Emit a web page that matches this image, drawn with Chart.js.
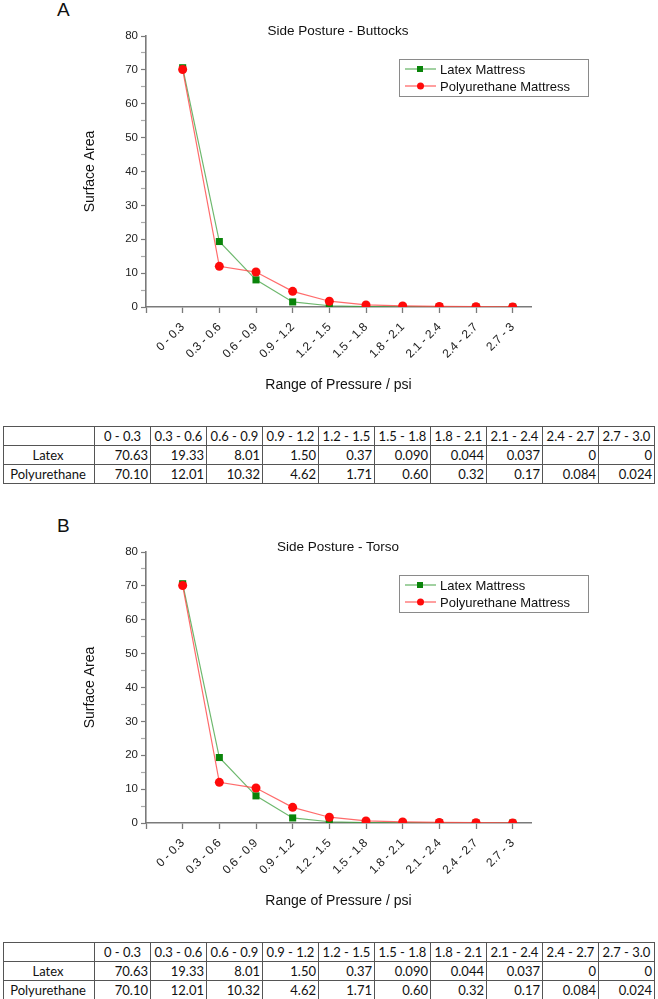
<!DOCTYPE html>
<html>
<head>
<meta charset="utf-8">
<script src="https://cdn.jsdelivr.net/npm/chart.js@4.4.0/dist/chart.umd.min.js"></script>
<style>
    body { margin: 0; background: #fff; width: 658px; height: 999px; position: relative; overflow: hidden; font-family: "Liberation Sans", Arial, sans-serif; color: #111; }
    .panel { position: absolute; left: 0; width: 658px; height: 516px; }
    .letter { position: absolute; left: 57px; top: -1px; font-size: 19px; line-height: 22px; }
    .title { position: absolute; left: 0; width: 676px; top: 23px; text-align: center; font-size: 13.5px; line-height: 15px; }
    canvas { position: absolute; left: 0; top: 0; }
    table { position: absolute; left: 3px; top: 426px; border-collapse: collapse; table-layout: fixed; width: 651px; font-family: Lato, "Open Sans", sans-serif; font-size: 13px; color: #111; }
    td { border: 1px solid #555; height: 18px; padding: 0 2px 0 0; text-align: right; line-height: 18px; white-space: nowrap; overflow: hidden; }
    td.lab { text-align: center; }
    tr.head td { text-align: center; padding: 0; }
</style>
</head>
<body>
<div class="panel" id="panelA" style="top:0">
    <div class="letter">A</div>
    <canvas id="chartA" width="658" height="410"></canvas>
    <div class="title">Side Posture - Buttocks</div>
    <table id="tableA"></table>
</div>
<div class="panel" id="panelB" style="top:516px">
    <div class="letter">B</div>
    <canvas id="chartB" width="658" height="410"></canvas>
    <div class="title">Side Posture - Torso</div>
    <table id="tableB"></table>
</div>
<script>
const pressureRanges = ['0 - 0.3', '0.3 - 0.6', '0.6 - 0.9', '0.9 - 1.2', '1.2 - 1.5', '1.5 - 1.8', '1.8 - 2.1', '2.1 - 2.4', '2.4 - 2.7', '2.7 - 3'];
const tableRanges = ['0 - 0.3', '0.3 - 0.6', '0.6 - 0.9', '0.9 - 1.2', '1.2 - 1.5', '1.5 - 1.8', '1.8 - 2.1', '2.1 - 2.4', '2.4 - 2.7', '2.7 - 3.0'];

const latexButtocks = ['70.63', '19.33', '8.01', '1.50', '0.37', '0.090', '0.044', '0.037', '0', '0'];
const polyButtocks = ['70.10', '12.01', '10.32', '4.62', '1.71', '0.60', '0.32', '0.17', '0.084', '0.024'];
const latexTorso = ['70.63', '19.33', '8.01', '1.50', '0.37', '0.090', '0.044', '0.037', '0', '0'];
const polyTorso = ['70.10', '12.01', '10.32', '4.62', '1.71', '0.60', '0.32', '0.17', '0.084', '0.024'];

const axisFont = { family: '"Liberation Sans", Arial, sans-serif', size: 11.5 };
const xTickFont = { family: '"Liberation Sans", Arial, sans-serif', size: 12 };
const titleFont = { family: '"Liberation Sans", Arial, sans-serif', size: 14 };

// legend box with line + marker, like the original
const boxLegend = {
    id: 'boxLegend',
    afterDatasetsDraw(chart) {
        const { ctx, chartArea } = chart;
        const x = chartArea.left + 253, y = chartArea.top + 23;
        ctx.save();
        ctx.fillStyle = '#fff';
        ctx.fillRect(x, y, 189, 37);
        ctx.strokeStyle = '#8a8a8a';
        ctx.lineWidth = 1;
        ctx.strokeRect(x + 0.5, y + 0.5, 189, 37);
        chart.data.datasets.forEach((ds, i) => {
            const ly = y + 10 + i * 17;
            ctx.strokeStyle = ds.borderColor;
            ctx.lineWidth = 1.3;
            ctx.beginPath();
            ctx.moveTo(x + 6, ly);
            ctx.lineTo(x + 37, ly);
            ctx.stroke();
            ctx.fillStyle = ds.pointBackgroundColor;
            if (ds.pointStyle === 'rect') {
                ctx.fillRect(x + 18, ly - 3, 6, 6);
            } else {
                ctx.beginPath();
                ctx.arc(x + 21.5, ly, 3.5, 0, Math.PI * 2);
                ctx.fill();
            }
            ctx.fillStyle = '#111';
            ctx.font = '13px "Liberation Sans", Arial, sans-serif';
            ctx.textBaseline = 'middle';
            ctx.fillText(ds.label, x + 41, ly + 1);
        });
        ctx.restore();
    }
};

function makeChart(id, latex, poly) {
    const ctx = document.getElementById(id).getContext('2d');
    return new Chart(ctx, {
        type: 'line',
        data: {
            datasets: [{
                label: 'Latex Mattress',
                data: latex.map((v, i) => ({ x: i, y: parseFloat(v) })),
                borderColor: 'rgba(60, 160, 60, 0.75)',
                borderWidth: 1.2,
                pointStyle: 'rect',
                pointRadius: 5,
                pointBackgroundColor: '#0a840a',
                pointBorderColor: '#0a840a',
                pointBorderWidth: 0,
                order: 2
            }, {
                label: 'Polyurethane Mattress',
                data: poly.map((v, i) => ({ x: i, y: parseFloat(v) })),
                borderColor: 'rgba(255, 70, 70, 0.8)',
                borderWidth: 1.2,
                pointStyle: 'circle',
                pointRadius: 4.5,
                pointBackgroundColor: '#ff0a0a',
                pointBorderColor: '#ff0a0a',
                pointBorderWidth: 0,
                order: 1
            }]
        },
        options: {
            responsive: false,
            animation: false,
            layout: { padding: { left: 0, right: 127, top: 36, bottom: 10 } },
            plugins: { legend: { display: false }, tooltip: { enabled: false } },
            scales: {
                x: {
                    type: 'linear',
                    min: -1,
                    max: 9.5,
                    afterBuildTicks: scale => {
                        scale.ticks = pressureRanges.map((_, i) => ({ value: i }));
                        scale.ticks.unshift({ value: -1 });
                    },
                    afterFit: scale => { scale.height = 93; },
                    ticks: {
                        autoSkip: false,
                        minRotation: 45,
                        maxRotation: 45,
                        padding: 7,
                        color: '#222',
                        font: xTickFont,
                        callback: v => pressureRanges[v] || ''
                    },
                    grid: { drawOnChartArea: false, tickLength: 6, tickColor: '#7a7a7a', tickWidth: 1.3 },
                    border: { color: '#7a7a7a', width: 1.6 },
                    title: { display: true, text: 'Range of Pressure / psi', color: '#111', font: titleFont, padding: { bottom: 6 } }
                },
                y: {
                    min: 0,
                    max: 80,
                    afterFit: scale => { scale.width = 146; },
                    ticks: {
                        stepSize: 5,
                        padding: 3,
                        color: '#222',
                        font: axisFont,
                        callback: v => (v % 10 === 0 ? v : '')
                    },
                    grid: {
                        drawOnChartArea: false,
                        tickLength: 5,
                        tickColor: c => (c.tick && c.tick.value % 10 === 0 ? '#7a7a7a' : '#aaaaaa'),
                        tickWidth: 1.2
                    },
                    border: { color: '#7a7a7a', width: 1.6 },
                    title: { display: true, text: 'Surface Area', color: '#111', font: titleFont, padding: { top: 82 } }
                }
            }
        },
        plugins: [boxLegend]
    });
}

function fillTable(id, latex, poly) {
    const table = document.getElementById(id);
    let html = '<colgroup><col style="width:91px">' + tableRanges.map(() => '<col style="width:56px">').join('') + '</colgroup>';
    html += '<tr class="head"><td></td>' + tableRanges.map(r => `<td>${r}</td>`).join('') + '</tr>';
    html += '<tr><td class="lab">Latex</td>' + latex.map(v => `<td>${v}</td>`).join('') + '</tr>';
    html += '<tr><td class="lab">Polyurethane</td>' + poly.map(v => `<td>${v}</td>`).join('') + '</tr>';
    table.innerHTML = html;
}

makeChart('chartA', latexButtocks, polyButtocks);
makeChart('chartB', latexTorso, polyTorso);
fillTable('tableA', latexButtocks, polyButtocks);
fillTable('tableB', latexTorso, polyTorso);
</script>
</body>
</html>
